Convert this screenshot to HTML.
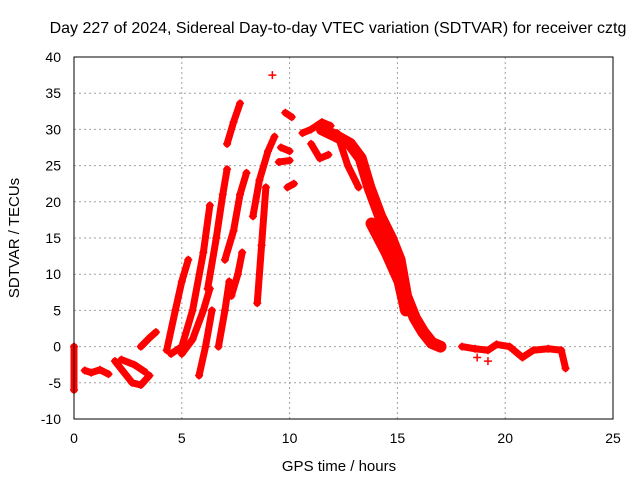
<!DOCTYPE html>
<html><head><meta charset="utf-8"><style>
body{margin:0;background:#fff;}
svg{display:block;font-family:"Liberation Sans",sans-serif;}
</style></head><body>
<svg id="chart" width="640" height="480">
<rect width="640" height="480" fill="#fff"/>
<text x="338" y="33" font-size="16" text-anchor="middle">Day 227 of 2024, Sidereal Day-to-day VTEC variation (SDTVAR) for receiver cztg</text>
<text x="339" y="471" font-size="15" text-anchor="middle">GPS time / hours</text>
<text transform="translate(19,238) rotate(-90)" font-size="15" text-anchor="middle">SDTVAR / TECUs</text>
<g id="grid"></g><g id="ticks"></g><g id="marks"></g>
<rect x="74" y="57" width="539" height="362" fill="none" stroke="#000" stroke-width="1"/>
</svg>
<script>
const xTicks=[0,5,10,15,20,25];
const yTicks=[-10,-5,0,5,10,15,20,25,30,35,40];
const trackHours=[
[0,0],[0.5,0.8,1.2,1.6],[1.9,2.3,2.7,3.1,3.5],[2.2,2.8,3.3],[3.1,3.5,3.8],
[4.3,4.7,5.0,5.3],[4.5,5.0,5.5,6.0,6.3],[5.0,5.5,6.0,6.3],[5.8,6.1,6.4],
[6.2,6.6,6.9,7.1],[6.7,7.0,7.2],[7.1,7.4,7.7],[7.0,7.4,7.7,8.0],[7.3,7.6,7.8],
[8.5,8.7,8.9],[8.3,8.6,9.0,9.3],[9.2],[9.8,10.1],[9.6,10.0],[9.9,10.2],[9.5,10.0],
[10.6,11.0,11.5,11.9],[11.0,11.4,11.8],
[11.5,12.2,12.8,13.3,13.7,14.2,14.7,15.1,15.4,15.8,16.2,16.6,17.0],
[12.2,12.7,13.2],[13.8,14.5,15.1,15.4],
[18.0,18.6,19.2,19.6,20.2,20.8,21.3,22.0,22.6,22.8],[18.7],[19.2]];
const trackValues=[
[0,-6],[-3.3,-3.6,-3.2,-3.8],[-2,-3.5,-5,-5.3,-4],[-1.8,-2.5,-3.5],[0,1.2,2],
[-0.5,5,9,12],[-1,0,5,13,19.5],[-1,1,5,8],[-4,0,5],
[8,15,21,24.5],[0,5,9],[28,31,33.6],[12,16,21,24],[7,10,13],
[6,14,22],[18,23,27,29],[37.5],[32.3,31.7],[27.5,27],[22,22.5],[25.5,25.7],
[29.5,30,31,30.5],[28,26,26.5],
[30,29,28,26,22,18,15,12,7,4,2,0.5,0],
[29.5,25,22],[17,13,9,5],
[0,-0.3,-0.5,0.3,0,-1.5,-0.5,-0.3,-0.5,-3],[-1.5],[-2]];
const X0=74,X1=613,Y0=419,Y1=57;
const sx=h=>X0+(h-0)/25*(X1-X0);
const sy=v=>Y0-(v+10)/50*(Y0-Y1);
const NS='http://www.w3.org/2000/svg';
const grid=document.getElementById('grid'),ticks=document.getElementById('ticks'),marks=document.getElementById('marks');
function mk(tag,attrs,parent){const e=document.createElementNS(NS,tag);for(const k in attrs)e.setAttribute(k,attrs[k]);parent.appendChild(e);return e;}
xTicks.forEach(t=>{
 const x=sx(t);
 if(t>0&&t<25){const g=mk('line',{x1:x,y1:Y0,x2:x,y2:Y1,stroke:'#a0a0a0','stroke-dasharray':'2,3'},grid);
 
 }
 const tl=mk('text',{x:x,y:443,'font-size':14,'text-anchor':'middle'},ticks);tl.textContent=t;
 
 
});
yTicks.forEach(t=>{
 const y=sy(t);
 if(t>-10&&t<40){const g=mk('line',{x1:X0,y1:y,x2:X1,y2:y,stroke:'#a0a0a0','stroke-dasharray':'2,3'},grid);
 
 }
 const tl=mk('text',{x:61,y:y+5,'font-size':14,'text-anchor':'end'},ticks);tl.textContent=t;
 
 
});
trackHours.forEach((hs,i)=>{
 const vs=trackValues[i];
 const pts=hs.map((h,j)=>sx(h)+','+sy(vs[j])).join(' ');
 const w=(i===23||i===25)?12:7;
 if(hs.length>1){const pl=mk('polyline',{points:pts,fill:'none',stroke:'#ff0000','stroke-width':w,'stroke-linejoin':'round','stroke-linecap':'round'},marks);
 
 }
 hs.forEach((h,j)=>{
  const x=sx(h),y=sy(vs[j]);
  const p=mk('path',{d:`M${x-4},${y}H${x+4}M${x},${y-4}V${y+4}`,stroke:'#ff0000','stroke-width':1.5},marks);
  
  
 });
});
</script>
</body></html>
